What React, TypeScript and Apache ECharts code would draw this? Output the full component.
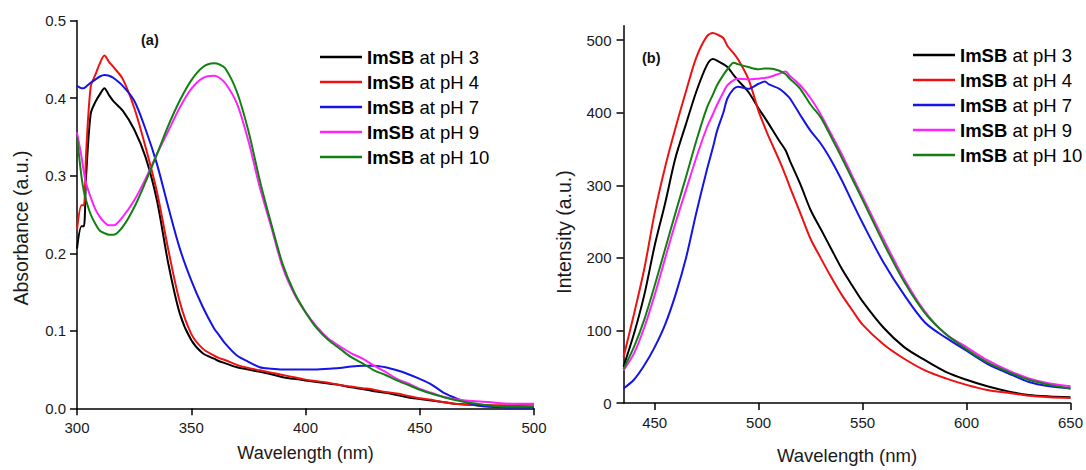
import React, { useEffect, useRef } from "react";
import * as echarts from "echarts";

// ---------- Panel (a): absorbance ----------
const absWavelengths = [300, 302, 303, 304, 306, 308, 310, 312, 314, 316, 320, 325, 330, 335, 340, 345, 350, 355, 360, 362, 365, 370, 375, 380, 385, 390, 395, 400, 405, 410, 415, 420, 425, 430, 435, 440, 445, 450, 455, 460, 465, 470, 475, 480, 490, 500];
const absPH3 = [0.206, 0.235, 0.235, 0.30, 0.38, 0.395, 0.405, 0.413, 0.404, 0.396, 0.384, 0.36, 0.324, 0.268, 0.186, 0.122, 0.088, 0.071, 0.064, 0.061, 0.058, 0.053, 0.05, 0.047, 0.044, 0.04, 0.038, 0.036, 0.034, 0.032, 0.03, 0.027, 0.025, 0.022, 0.02, 0.017, 0.014, 0.012, 0.01, 0.008, 0.006, 0.005, 0.004, 0.003, 0.002, 0.002];
const absPH4 = [0.23, 0.262, 0.262, 0.33, 0.415, 0.43, 0.445, 0.455, 0.447, 0.44, 0.425, 0.388, 0.337, 0.279, 0.204, 0.137, 0.096, 0.077, 0.068, 0.065, 0.062, 0.056, 0.052, 0.049, 0.046, 0.043, 0.04, 0.037, 0.035, 0.033, 0.03, 0.028, 0.026, 0.024, 0.021, 0.019, 0.016, 0.013, 0.011, 0.008, 0.006, 0.005, 0.004, 0.004, 0.004, 0.005];
const absPH7 = [0.416, 0.413, 0.413, 0.415, 0.42, 0.424, 0.428, 0.43, 0.429, 0.426, 0.416, 0.397, 0.36, 0.315, 0.259, 0.206, 0.165, 0.131, 0.103, 0.095, 0.083, 0.068, 0.06, 0.053, 0.051, 0.05, 0.05, 0.05, 0.05, 0.051, 0.052, 0.054, 0.055, 0.055, 0.053, 0.049, 0.044, 0.038, 0.031, 0.021, 0.014, 0.008, 0.004, 0.002, 0.001, 0.001];
const absPH9 = [0.356, 0.324, 0.305, 0.29, 0.272, 0.257, 0.247, 0.24, 0.236, 0.236, 0.247, 0.268, 0.296, 0.328, 0.358, 0.388, 0.412, 0.426, 0.429, 0.427, 0.419, 0.393, 0.345, 0.285, 0.234, 0.182, 0.148, 0.124, 0.105, 0.09, 0.08, 0.071, 0.064, 0.055, 0.047, 0.038, 0.032, 0.025, 0.02, 0.015, 0.012, 0.01, 0.009, 0.008, 0.006, 0.006];
const absPH10 = [0.35, 0.298, 0.28, 0.268, 0.25, 0.238, 0.229, 0.226, 0.224, 0.224, 0.234, 0.259, 0.292, 0.328, 0.365, 0.397, 0.423, 0.44, 0.445, 0.444, 0.438, 0.408, 0.358, 0.294, 0.238, 0.186, 0.15, 0.124, 0.103, 0.088, 0.077, 0.066, 0.058, 0.049, 0.043, 0.036, 0.03, 0.024, 0.019, 0.015, 0.011, 0.008, 0.006, 0.004, 0.002, 0.002];

// ---------- Panel (b): fluorescence intensity ----------
const flWavelengths = [435, 440, 445, 450, 455, 460, 465, 470, 475, 478, 480, 483, 485, 488, 490, 495, 500, 503, 505, 510, 513, 515, 520, 525, 530, 535, 540, 545, 550, 560, 570, 580, 590, 600, 610, 620, 630, 640, 650];
const flPH3 = [50, 95, 149, 217, 275, 338, 384, 429, 465, 474, 472, 467, 463, 452, 445, 429, 406, 393, 384, 361, 348, 334, 302, 266, 239, 212, 185, 162, 140, 104, 77, 59, 43, 32, 23, 16, 11, 9, 8];
const flPH4 = [63, 122, 185, 262, 325, 379, 429, 476, 505, 510, 508, 503, 492, 482, 474, 447, 402, 380, 366, 334, 313, 298, 262, 226, 199, 173, 149, 128, 108, 81, 61, 45, 34, 25, 18, 14, 10, 8, 7];
const flPH7 = [20, 32, 52, 77, 108, 149, 199, 262, 320, 352, 375, 400, 420, 433, 436, 433, 440, 443, 439, 433, 426, 420, 397, 375, 357, 334, 307, 277, 248, 194, 149, 111, 90, 72, 54, 41, 29, 23, 20];
const flPH9 = [45, 68, 104, 149, 199, 248, 293, 338, 379, 398, 411, 428, 438, 445, 447, 446, 447, 448, 449, 454, 457, 451, 438, 420, 397, 370, 343, 313, 284, 226, 171, 126, 95, 77, 59, 45, 34, 27, 23];
const flPH10 = [47, 77, 115, 162, 212, 262, 311, 361, 406, 425, 438, 452, 460, 469, 467, 463, 460, 461, 461, 458, 453, 447, 433, 411, 393, 366, 338, 309, 280, 221, 167, 124, 95, 74, 56, 43, 32, 25, 20];

const seriesNames = ["ImSB at pH 3", "ImSB at pH 4", "ImSB at pH 7", "ImSB at pH 9", "ImSB at pH 10"];
const seriesColors = ["#000000", "#ee1111", "#1414e6", "#ff22ff", "#118011"];

const absTicksX = [300, 350, 400, 450, 500];
const flTicksX = [450, 500, 550, 600, 650];
const flTicksY = [0, 100, 200, 300, 400, 500];

const FONT = "'Liberation Sans', Arial, Helvetica, sans-serif";

export default function App() {
  const ref = useRef<HTMLDivElement>(null);

  useEffect(() => {
    document.body.style.margin = "0";
    if (!ref.current) return;
    const chart = echarts.init(ref.current, undefined, { renderer: "svg" });

    const absValues = [absPH3, absPH4, absPH7, absPH9, absPH10];
    const flValues = [flPH3, flPH4, flPH7, flPH9, flPH10];

    const mkSeries = (xs: number[], vals: number[][], idx: number) =>
      vals.map((v, i) => ({
        name: seriesNames[i],
        type: "line",
        xAxisIndex: idx,
        yAxisIndex: idx,
        data: xs.map((x, j) => [x, v[j]]),
        showSymbol: false,
        symbol: "none",
        smooth: 0.3,
        color: seriesColors[i],
        lineStyle: { width: 2, color: seriesColors[i] },
      }));

    const axisCommon = {
      axisLine: { show: true, onZero: false, lineStyle: { color: "#000", width: 1.5 } },
      axisTick: { show: true, inside: false, length: 7, lineStyle: { color: "#000", width: 1.5 } },
      splitLine: { show: false },
    };
    const labelStyle = { color: "#1a1a1a", fontSize: 15, fontFamily: FONT };

    const legendCommon = {
      data: seriesNames,
      orient: "vertical",
      icon: "rect",
      itemWidth: 42,
      itemHeight: 2.5,
      itemGap: 5,
      padding: 0,
      selectedMode: false,
      formatter: (name: string) => "{b|ImSB}" + name.slice(4),
      textStyle: {
        fontSize: 18.5,
        lineHeight: 20,
        color: "#000",
        fontFamily: FONT,
        rich: {
          b: { fontWeight: "bold", fontSize: 18.5, lineHeight: 20, color: "#000", fontFamily: FONT },
        },
      },
    };

    chart.setOption({
      animation: false,
      backgroundColor: "#ffffff",
      grid: [
        { left: 77, top: 20.7, width: 457, height: 387.6 },
        { left: 623.5, top: 25.7, width: 450.5, height: 384.3 },
      ],
      legend: [
        { ...legendCommon, left: 320, top: 47 },
        { ...legendCommon, left: 913, top: 45 },
      ],
      xAxis: [
        {
          ...axisCommon,
          type: "value",
          gridIndex: 0,
          min: 300,
          max: 500,
          interval: 50,
          axisLabel: { ...labelStyle, margin: 12, customValues: absTicksX },
          axisTick: { ...axisCommon.axisTick, customValues: absTicksX },
          name: "Wavelength (nm)",
          nameLocation: "middle",
          nameGap: 36,
          nameTextStyle: { fontSize: 18, color: "#1a1a1a", fontFamily: FONT },
        },
        {
          ...axisCommon,
          type: "value",
          gridIndex: 1,
          min: 435,
          max: 650,
          axisLabel: { ...labelStyle, margin: 12, customValues: flTicksX },
          axisTick: { ...axisCommon.axisTick, customValues: flTicksX },
          name: "Wavelength (nm)",
          nameLocation: "middle",
          nameGap: 43,
          nameTextStyle: { fontSize: 18.5, color: "#1a1a1a", fontFamily: FONT },
        },
      ],
      yAxis: [
        {
          ...axisCommon,
          type: "value",
          gridIndex: 0,
          min: 0,
          max: 0.5,
          interval: 0.1,
          axisLabel: { ...labelStyle, margin: 11, formatter: (v: number) => v.toFixed(1) },
        },
        {
          ...axisCommon,
          type: "value",
          gridIndex: 1,
          min: 0,
          max: 520,
          axisLabel: { ...labelStyle, margin: 12, customValues: flTicksY },
          axisTick: { ...axisCommon.axisTick, customValues: flTicksY },
        },
      ],
      graphic: [
        {
          type: "text",
          x: 21,
          y: 228,
          rotation: Math.PI / 2,
          style: {
            text: "Absorbance (a.u.)",
            fontSize: 19.5,
            fontFamily: FONT,
            fill: "#1a1a1a",
            align: "center",
            verticalAlign: "middle",
          },
        },
        {
          type: "text",
          x: 564,
          y: 232,
          rotation: Math.PI / 2,
          style: {
            text: "Intensity (a.u.)",
            fontSize: 19.5,
            fontFamily: FONT,
            fill: "#1a1a1a",
            align: "center",
            verticalAlign: "middle",
          },
        },
        {
          type: "text",
          x: 141,
          y: 39.5,
          style: {
            text: "(a)",
            fontSize: 14.5,
            fontWeight: "bold",
            fontFamily: FONT,
            fill: "#111",
            align: "left",
            verticalAlign: "middle",
          },
        },
        {
          type: "text",
          x: 642,
          y: 58,
          style: {
            text: "(b)",
            fontSize: 14.5,
            fontWeight: "bold",
            fontFamily: FONT,
            fill: "#111",
            align: "left",
            verticalAlign: "middle",
          },
        },
      ],
      series: [...mkSeries(absWavelengths, absValues, 0), ...mkSeries(flWavelengths, flValues, 1)],
    });

    return () => chart.dispose();
  }, []);

  return <div ref={ref} style={{ width: 1086, height: 470 }} />;
}
